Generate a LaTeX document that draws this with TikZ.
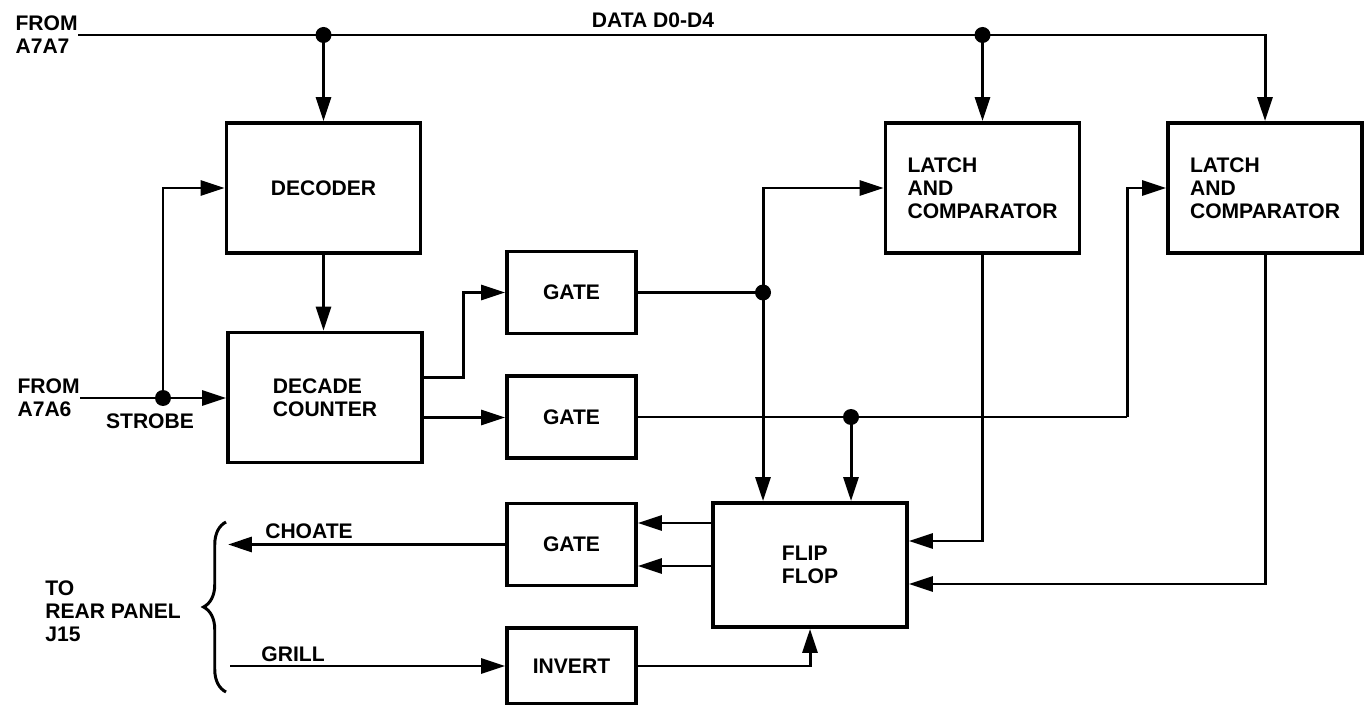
\documentclass[tikz,border=0pt]{standalone}
\usepackage{fontspec}
\setmainfont{Liberation Sans}
\usetikzlibrary{arrows.meta, positioning, calc, decorations.pathreplacing}

\begin{document}
\begin{tikzpicture}[
    x=0.02cm, y=-0.02cm,
    >={Triangle[length=0.48cm, width=0.3cm]},
    font=\fontsize{12}{13}\selectfont\bfseries,
    caixa/.style={
        rectangle,
        draw,
        line width=2.2pt,
        align=left,
        inner sep=0pt
    },
    bigbox/.style={caixa, minimum width=3.88cm, minimum height=2.6cm},
    gatebox/.style={caixa, minimum width=2.58cm, minimum height=1.64cm},
    rotulo/.style={align=left, inner sep=0pt},
    fio/.style={line width=1.7pt},
    seta/.style={->, fio},
    ponto/.style={circle, fill, inner sep=0pt, minimum size=0.32cm}
]
\useasboundingbox (0,0) rectangle (1371,705);

% blocks
\node[bigbox] (decoder) at (323.5,188) {DECODER};
\node[bigbox] (counter) at (325,397.5) {DECADE\\COUNTER};
\node[gatebox] (gate1) at (571.5,292.5) {GATE};
\node[gatebox] (gate2) at (571.5,417) {GATE};
\node[gatebox] (gate3) at (571.5,544.5) {GATE};
\node[gatebox, minimum height=1.52cm] (invert) at (571.5,666) {INVERT};
\node[bigbox] (latch1) at (982.5,188) {LATCH\\AND\\COMPARATOR};
\node[bigbox] (latch2) at (1265,188) {LATCH\\AND\\COMPARATOR};
\node[bigbox, minimum height=2.48cm] (flipflop) at (810,565) {FLIP\\FLOP};

% labels
\node[rotulo, anchor=east] (a7a7) at (78,35) {FROM\\A7A7};
\node[rotulo, anchor=east] (a7a6) at (80,398) {FROM\\A7A6};
\node[rotulo] (data) at (653,20) {DATA D0-D4};
\node[rotulo] (strobe) at (150,421) {STROBE};
\node[rotulo] (choate) at (309,531) {CHOATE};
\node[rotulo] (grill) at (293,654) {GRILL};
\node[rotulo, anchor=west] (rear) at (45,611) {TO\\REAR PANEL\\J15};

% junctions
\coordinate (jdec) at (decoder.north |- a7a7.east);
\coordinate (jlat) at (latch1.north |- a7a7.east);
\coordinate (jstb) at (163,398);
\coordinate (jg1) at (763,292.5);
\coordinate (jg2) at (851,417);
\coordinate (bend) at (1127,417);
\coordinate (choateend) at (228,544.5);
\coordinate (grillend) at (230,666);
\coordinate (chavelo) at (226,692);
\coordinate (chavehi) at (226,522);

% data bus
\draw[seta] (a7a7.east) -| (latch2.north);
\draw[seta] (jdec) -- (decoder.north);
\draw[seta] (jlat) -- (latch1.north);

% strobe
\draw[seta] (a7a6.east) -- (a7a6.east -| counter.west);
\draw[seta] (jstb) |- (decoder.west);
\draw[seta] (decoder.south) -- (decoder.south |- counter.north);

% counter to gates
\draw[seta] ($(counter.east)+(0,-20)$) -- ++(40,0) |- (gate1.west);
\draw[seta] ($(counter.east)+(0,20)$) coordinate (c2) -- (c2 -| gate2.west);

% gates to latches and flip flop
\draw[fio] (gate1.east) -- (jg1);
\draw[seta] (jg1) |- (latch1.west);
\draw[seta] (jg1) -- (jg1 |- flipflop.north);
\draw[fio] (gate2.east) -- (bend);
\draw[seta] (bend) |- (latch2.west);
\draw[seta] (jg2) -- (jg2 |- flipflop.north);

% latches back to flip flop
\draw[seta] (latch1.south) |- ($(flipflop.east)+(0,-24)$);
\draw[seta] (latch2.south) |- ($(flipflop.east)+(0,19)$);

% flip flop to gate
\draw[seta] ($(flipflop.west)+(0,-42)$) coordinate (f1) -- (f1 -| gate3.east);
\draw[seta] ($(flipflop.west)+(0,1)$) coordinate (f2) -- (f2 -| gate3.east);

% rear panel
\draw[seta] (gate3.west) -- (choateend);
\draw[seta] (grillend) -- (invert.west);
\draw[seta] (invert.east) -| (flipflop.south);
\draw[fio, decorate, decoration={brace, amplitude=0.45cm}] (chavelo) -- (chavehi);

% dots
\node[ponto] (djdec) at (jdec) {};
\node[ponto] (djlat) at (jlat) {};
\node[ponto] (djstb) at (jstb) {};
\node[ponto] (djg1) at (jg1) {};
\node[ponto] (djg2) at (jg2) {};

\end{tikzpicture}
\end{document}
